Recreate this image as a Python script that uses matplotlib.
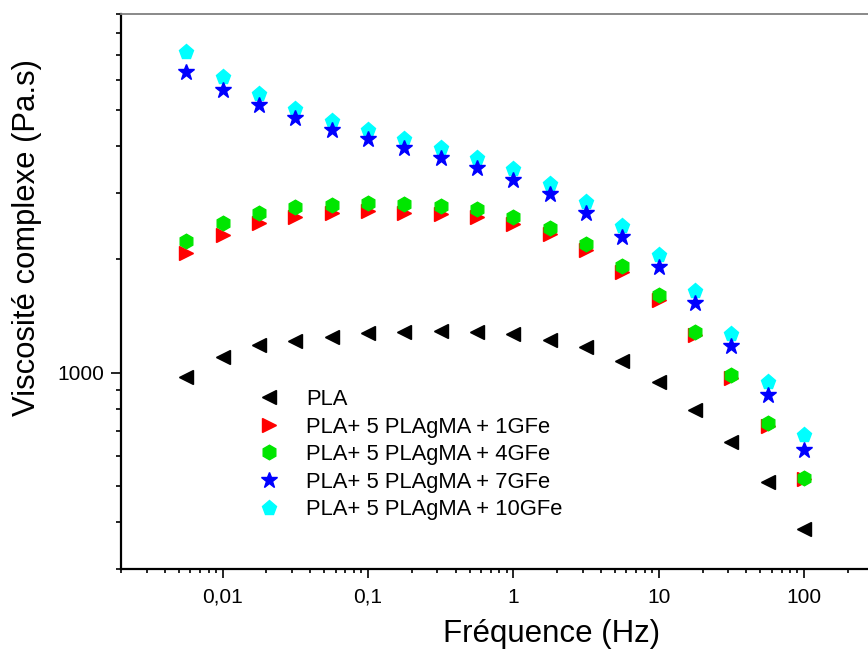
import matplotlib
matplotlib.use("Agg")
import matplotlib.pyplot as plt
from matplotlib.ticker import LogLocator, NullFormatter, FixedLocator, FixedFormatter

plt.rcParams['font.family'] = ['Liberation Sans', 'DejaVu Sans']

freq = [0.00562, 0.01, 0.0178, 0.0316, 0.0562, 0.1, 0.178, 0.316, 0.562,
        1.0, 1.78, 3.16, 5.62, 10.0, 17.8, 31.6, 56.2, 100.0]

pla = [975, 1102, 1184, 1213, 1246, 1272, 1284, 1292, 1282,
       1264, 1221, 1168, 1073, 944, 795, 652, 510, 383]
gfe1 = [2084, 2324, 2496, 2600, 2654, 2692, 2664, 2642, 2590,
        2486, 2338, 2120, 1855, 1560, 1259, 969, 722, 520]
gfe4 = [2243, 2496, 2664, 2758, 2798, 2827, 2804, 2775, 2720,
        2594, 2426, 2199, 1921, 1605, 1284, 984, 733, 523]
gfe7 = [6300, 5652, 5163, 4750, 4430, 4184, 3954, 3726, 3498,
        3256, 2982, 2654, 2295, 1906, 1532, 1175, 873, 623]
gfe10 = [7131, 6132, 5514, 5030, 4671, 4422, 4176, 3954, 3726,
         3476, 3182, 2849, 2455, 2052, 1649, 1267, 946, 681]

series_labels = ['PLA', 'PLA+ 5 PLAgMA + 1GFe', 'PLA+ 5 PLAgMA + 4GFe',
                 'PLA+ 5 PLAgMA + 7GFe', 'PLA+ 5 PLAgMA + 10GFe']

xtick_vals = [0.01, 0.1, 1, 10, 100]
xtick_labels = ['0,01', '0,1', '1', '10', '100']
ytick_vals = [1000]
ytick_labels = ['1000']

W, H = 868, 651
fig = plt.figure(figsize=(W / 100, H / 100), dpi=100)
left_px, right_px, top_px, bottom_px = 121, 949.5, 14, 569
ax = fig.add_axes([left_px / W, 1 - bottom_px / H,
                   (right_px - left_px) / W, (bottom_px - top_px) / H])

ax.set_xscale('log')
ax.set_yscale('log')

ax.plot(freq, pla, linestyle='none', marker='<', ms=10.5, color='black',
        label=series_labels[0], zorder=3)
ax.plot(freq, gfe1, linestyle='none', marker='>', ms=10.5, color='#ff0000',
        label=series_labels[1], zorder=3)
ax.plot(freq, gfe4, linestyle='none', marker='h', ms=10.5, color='#00e600',
        label=series_labels[2], zorder=4)
ax.plot(freq, gfe7, linestyle='none', marker='*', ms=12, color='#0000ff',
        label=series_labels[3], zorder=6)
ax.plot(freq, gfe10, linestyle='none', marker='p', ms=11, color='#00ffff',
        label=series_labels[4], zorder=5)

ax.set_xlim(0.002, 1000)
ax.set_ylim(300, 9000)

ax.xaxis.set_major_locator(FixedLocator(xtick_vals))
ax.xaxis.set_major_formatter(FixedFormatter(xtick_labels))
ax.xaxis.set_minor_locator(LogLocator(base=10, subs=range(2, 10), numticks=20))
ax.xaxis.set_minor_formatter(NullFormatter())
ax.yaxis.set_major_locator(FixedLocator(ytick_vals))
ax.yaxis.set_major_formatter(FixedFormatter(ytick_labels))
ax.yaxis.set_minor_locator(LogLocator(base=10, subs=range(2, 10), numticks=20))
ax.yaxis.set_minor_formatter(NullFormatter())

ax.tick_params(which='both', direction='out', width=1.2, color='black',
               top=False, right=False, labelsize=15)
ax.tick_params(axis='y', which='major', length=7, pad=5)
ax.tick_params(axis='y', which='minor', length=3.6)
ax.tick_params(axis='x', which='major', length=6.5, pad=7)
ax.tick_params(axis='x', which='minor', length=3)

for s in ['left', 'bottom']:
    ax.spines[s].set_linewidth(1.6)
    ax.spines[s].set_color('black')
ax.spines['top'].set_color('#808080')
ax.spines['top'].set_linewidth(1.3)
ax.spines['right'].set_visible(False)

fig.text(552 / W, 1 - 634 / H, 'Fréquence (Hz)', fontsize=22.5,
         ha='center', va='center')
fig.text(27 / W, 1 - 238 / H, 'Viscosité complexe (Pa.s)', fontsize=22.3,
         ha='center', va='center', rotation=90)

ax.legend(loc='upper left', bbox_to_anchor=(258 / W, 1 - 389 / H),
          bbox_transform=fig.transFigure, frameon=False, fontsize=15.8,
          handlelength=1.0, handletextpad=1.2, labelspacing=0.3,
          borderpad=0, borderaxespad=0, numpoints=1)

fig.savefig('out.png', dpi=100)
